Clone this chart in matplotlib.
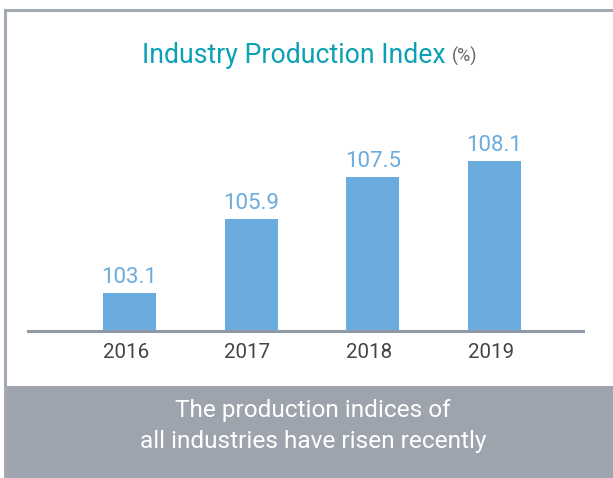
import matplotlib.pyplot as plt
from matplotlib.patches import Rectangle
from matplotlib.lines import Line2D

years = ['2016', '2017', '2018', '2019']
index_values = [103.1, 105.9, 107.5, 108.1]

title = 'Industry Production Index'
unit = '(%)'
note_lines = ['The production indices of', 'all industries have risen recently']

W, H = 613, 478
font = ['Roboto', 'DejaVu Sans']

fig = plt.figure(figsize=(W / 100, H / 100), dpi=100)
fig.patch.set_facecolor('white')


def fx(px):
    return px / W


def fy(py):
    return 1 - py / H


# frame: top rule, left rule and the grey note panel
fig.add_artist(Line2D([fx(5), 1], [fy(10), fy(10)], color='#a3aab4', lw=2.2))
fig.add_artist(Line2D([fx(5.5), fx(5.5)], [fy(10), 0], color='#a3aab4', lw=2.2))
fig.add_artist(Rectangle((fx(6), 0), 1, fy(386), color='#9ea4ae', lw=0))

# axes placed so the baseline sits at y=331 px
ax = fig.add_axes([fx(28), fy(331), fx(583 - 28), fy(120) - fy(331)])
ax.set_xlim(-0.834, 3.727)
ax.set_ylim(101.65, 109.65)

x = range(len(years))
bars = ax.bar(x, index_values, width=0.435, color='#6aacde')
for xi, v in zip(x, index_values):
    ax.text(xi, v + 0.38, f'{v:.1f}', ha='center', va='baseline',
            color='#6aacde', fontsize=16, family=font)

for s in ['top', 'right', 'left']:
    ax.spines[s].set_visible(False)
ax.spines['bottom'].set_color('#8f99a6')
ax.spines['bottom'].set_linewidth(2.2)
ax.set_yticks([])
ax.set_xticks([xi - 0.03 for xi in x])
ax.set_xticklabels(years, fontsize=14.8, color='#444444', family=font)
ax.tick_params(axis='x', length=0, pad=9)
ax.patch.set_alpha(0)

t = fig.text(fx(142.5), fy(62.7), title, ha='left', va='baseline',
             color='#0aa1b4', fontsize=19.2, family=font)
r = fig.canvas.get_renderer()
bb = t.get_window_extent(renderer=r)
fig.text((bb.x1 + 6) / W, fy(61.5), unit, ha='left', va='baseline',
         color='#666666', fontsize=13, family=font)

for line, base in zip(note_lines, [417, 448]):
    fig.text(fx(313), fy(base), line, ha='center', va='baseline',
             color='white', fontsize=17.6, family=font)

fig.savefig('out.png', dpi=100)
